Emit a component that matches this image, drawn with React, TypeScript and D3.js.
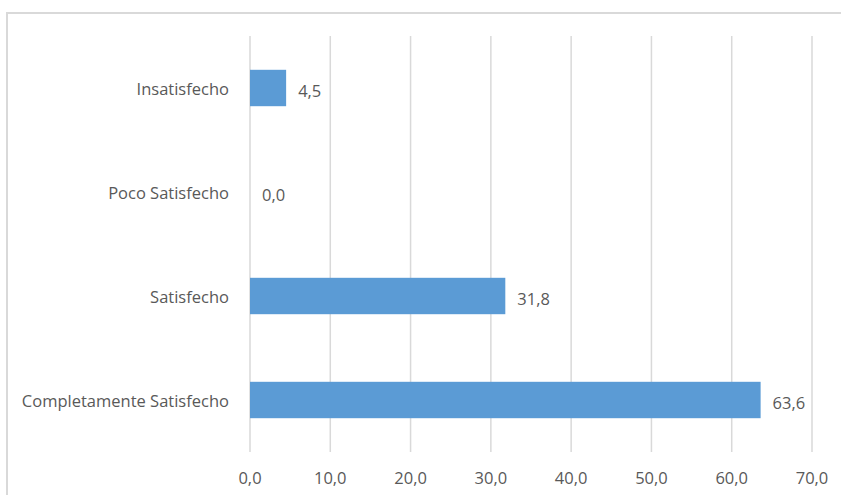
import React from "react";
import * as d3 from "d3";

const categories = ["Insatisfecho", "Poco Satisfecho", "Satisfecho", "Completamente Satisfecho"];
const values = [4.5, 0.0, 31.8, 63.6];
const xTicks = [0, 10, 20, 30, 40, 50, 60, 70];

const fmt = (v: number) => v.toFixed(1).replace(".", ",");

export default function App() {
    const width = 841;
    const height = 495;
    const margin = { top: 36, right: 29, bottom: 43, left: 250 };
    const font = "'Open Sans', sans-serif";
    const textColor = "#595959";
    const fs = 16.5;

    const x = d3.scaleLinear([0, 70], [margin.left, width - margin.right]);
    const y = d3.scaleBand(categories, [margin.top, height - margin.bottom]).paddingInner(0.65).paddingOuter(0.325);

    return <svg width={width} height={height} style={{ position: "absolute", left: 0, top: 0, background: "#fff" }}>
        <rect x={7} y={13} width={width} height={height} fill="none" stroke="#d9d9d9" strokeWidth={2} />
        {/* grid */}
        {xTicks.map((t) => (
            <g key={t}>
                <line x1={x(t)} x2={x(t)} y1={margin.top} y2={height - margin.bottom} stroke="#d9d9d9" strokeWidth={1.5} />
                <text x={x(t)} y={484} textAnchor="middle"
                    fontFamily={font} fontSize={fs} fill={textColor}>{fmt(t)}</text>
            </g>
        ))}
        {categories.map((c, i) => {
            const yc = y(c)! + y.bandwidth() / 2;
            return <g key={c}>
                {values[i] > 0 && <rect x={x(0)} y={y(c)} width={x(values[i]) - x(0)} height={y.bandwidth()} fill="#5b9bd5" />}
                <text x={229} y={yc + 7} textAnchor="end"
                    fontFamily={font} fontSize={fs} fill={textColor}>{c}</text>
                <text x={x(values[i]) + 12} y={yc + 8.5} textAnchor="start"
                    fontFamily={font} fontSize={fs} fill={textColor}>{fmt(values[i])}</text>
            </g>;
        })}
    </svg>;
}
